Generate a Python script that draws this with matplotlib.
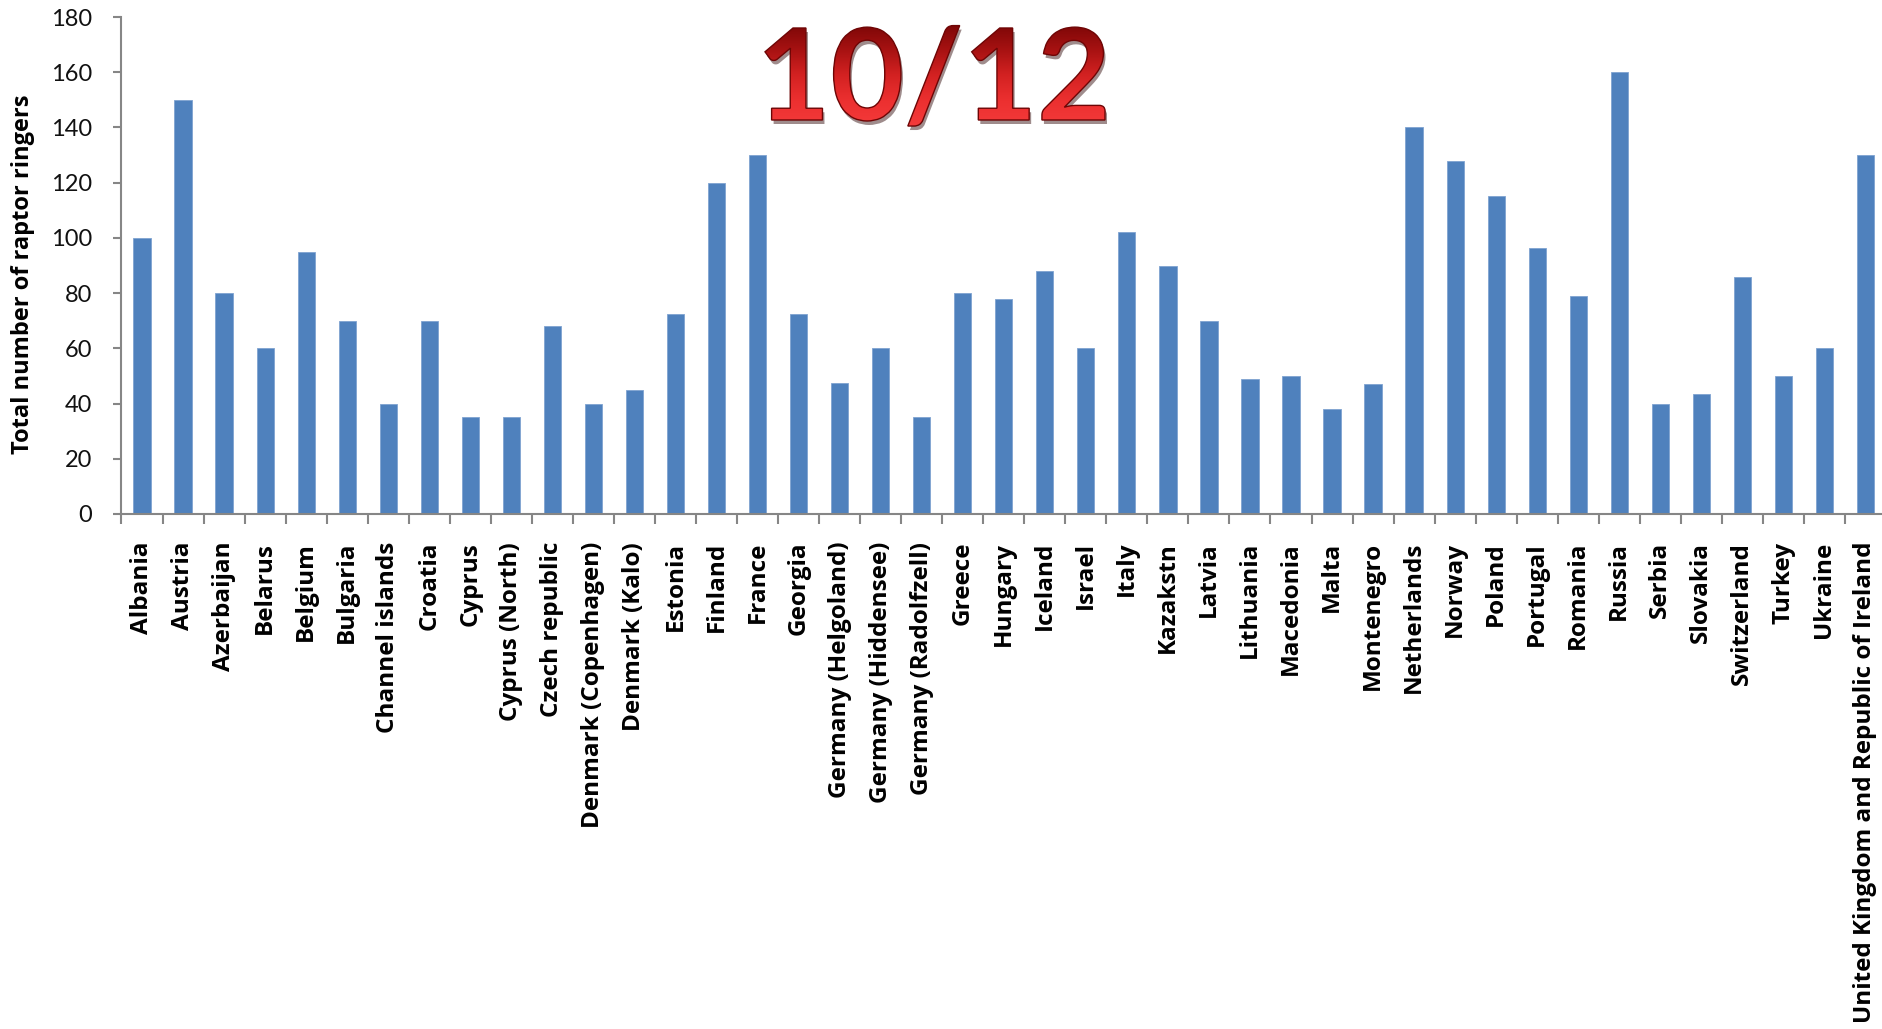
import numpy as np
import matplotlib
matplotlib.use('Agg')
import matplotlib.pyplot as plt
from matplotlib.ticker import FixedLocator
from matplotlib.textpath import TextPath
from matplotlib.font_manager import FontProperties
from matplotlib.patches import PathPatch
from matplotlib.transforms import Affine2D
from matplotlib.colors import LinearSegmentedColormap

#------------------------------------------------------------------------------
# Data
countries = ['Albania', 'Austria', 'Azerbaijan', 'Belarus', 'Belgium', 'Bulgaria',
             'Channel islands', 'Croatia', 'Cyprus', 'Cyprus (North)',
             'Czech republic', 'Denmark (Copenhagen)', 'Denmark (Kalo)', 'Estonia',
             'Finland', 'France', 'Georgia', 'Germany (Helgoland)',
             'Germany (Hiddensee)', 'Germany (Radolfzell)', 'Greece', 'Hungary',
             'Iceland', 'Israel', 'Italy', 'Kazakstn', 'Latvia', 'Lithuania',
             'Macedonia', 'Malta', 'Montenegro', 'Netherlands', 'Norway', 'Poland',
             'Portugal', 'Romania', 'Russia', 'Serbia', 'Slovakia', 'Switzerland',
             'Turkey', 'Ukraine', 'United Kingdom and Republic of Ireland']

ringers = [100, 150, 80, 60, 95, 70,
           40, 70, 35, 35,
           68, 40, 45, 72.5,
           120, 130, 72.5, 47.5,
           60, 35, 80, 78,
           88, 60, 102, 90, 70, 49,
           50, 38, 47, 140, 128, 115,
           96.5, 79, 160, 40, 43.5, 86,
           50, 60, 130]

y_ticks = [0, 20, 40, 60, 80, 100, 120, 140, 160, 180]
y_label = 'Total number of raptor ringers'
badge_text = '10/12'

#------------------------------------------------------------------------------
W, H = 1883, 1029
fig = plt.figure(figsize=(W / 100, H / 100), dpi=100)
fig.patch.set_facecolor('white')

axis_grey = '#868686'
ax = fig.add_axes([121.5 / W, 515 / H, 1764.5 / W, 497 / H])

x = np.arange(len(countries))
ax.bar(x, ringers, width=0.42, color='#4f81bd', edgecolor='#7fa3d1', linewidth=0.6)

ax.set_xlim(-0.5, len(countries) - 0.5)
ax.set_ylim(0, 180)
ax.set_yticks(y_ticks)
ax.set_xticks(x)
ax.set_xticklabels(countries, rotation=90, fontsize=17.5, fontweight='bold',
                   family='Open Sans')
ax.xaxis.set_minor_locator(FixedLocator(np.arange(len(countries) + 1) - 0.5))
ax.tick_params(axis='x', which='major', length=0, pad=20)
ax.tick_params(axis='x', which='minor', length=7, width=1.5, color=axis_grey)
ax.tick_params(axis='y', length=6, width=1.5, color=axis_grey, labelsize=17, pad=15)
for lab in ax.get_yticklabels():
    lab.set_family('Lato')
    lab.set_color('#111111')

for s in ['top', 'right']:
    ax.spines[s].set_visible(False)
for s in ['left', 'bottom']:
    ax.spines[s].set_color(axis_grey)
    ax.spines[s].set_linewidth(1.5)

ax.set_ylabel(y_label, fontsize=17, fontweight='bold', family='Open Sans')
ax.yaxis.set_label_coords(-0.049, 0.483)

#------------------------------------------------------------------------------
# Big red "10/12" badge with a vertical gradient and drop shadow
tax = fig.add_axes([0, 0, 1, 1], zorder=10)
tax.axis('off')

fp = FontProperties(family='Lato', weight='bold')
tp = TextPath((0, 0), badge_text, size=100, prop=fp)
digit_h = TextPath((0, 0), '1', size=100, prop=fp).get_extents().y1
bb = tp.get_extents()
sx = 340 / bb.width
sy = 92 / digit_h
tr = Affine2D().translate(-(bb.x0 + bb.x1) / 2, 0).scale(sx, sy).translate(935, H - 120)
path = tr.transform_path(tp)
pb = path.get_extents()

shadow = PathPatch(Affine2D().translate(2, -4).transform_path(path),
                   facecolor='#2a0000', edgecolor='none', alpha=0.45)
tax.add_patch(shadow)

fill = PathPatch(path, facecolor='none', edgecolor='none')
tax.add_patch(fill)
cmap = LinearSegmentedColormap.from_list(
    'badge', ['#7e0707', '#a81212', '#d42222', '#ec3030', '#f43a3a'])
grad = np.linspace(0, 1, 256).reshape(-1, 1)
im = tax.imshow(grad, cmap=cmap, aspect='auto', origin='upper',
                extent=[pb.x0, pb.x1, pb.y0, pb.y1], zorder=2)
im.set_clip_path(fill)

edge = PathPatch(path, facecolor='none', edgecolor='#6e0505', linewidth=1.0, zorder=3)
tax.add_patch(edge)
tax.set_xlim(0, W)
tax.set_ylim(0, H)

fig.savefig('out.png', dpi=100)
plt.close(fig)
